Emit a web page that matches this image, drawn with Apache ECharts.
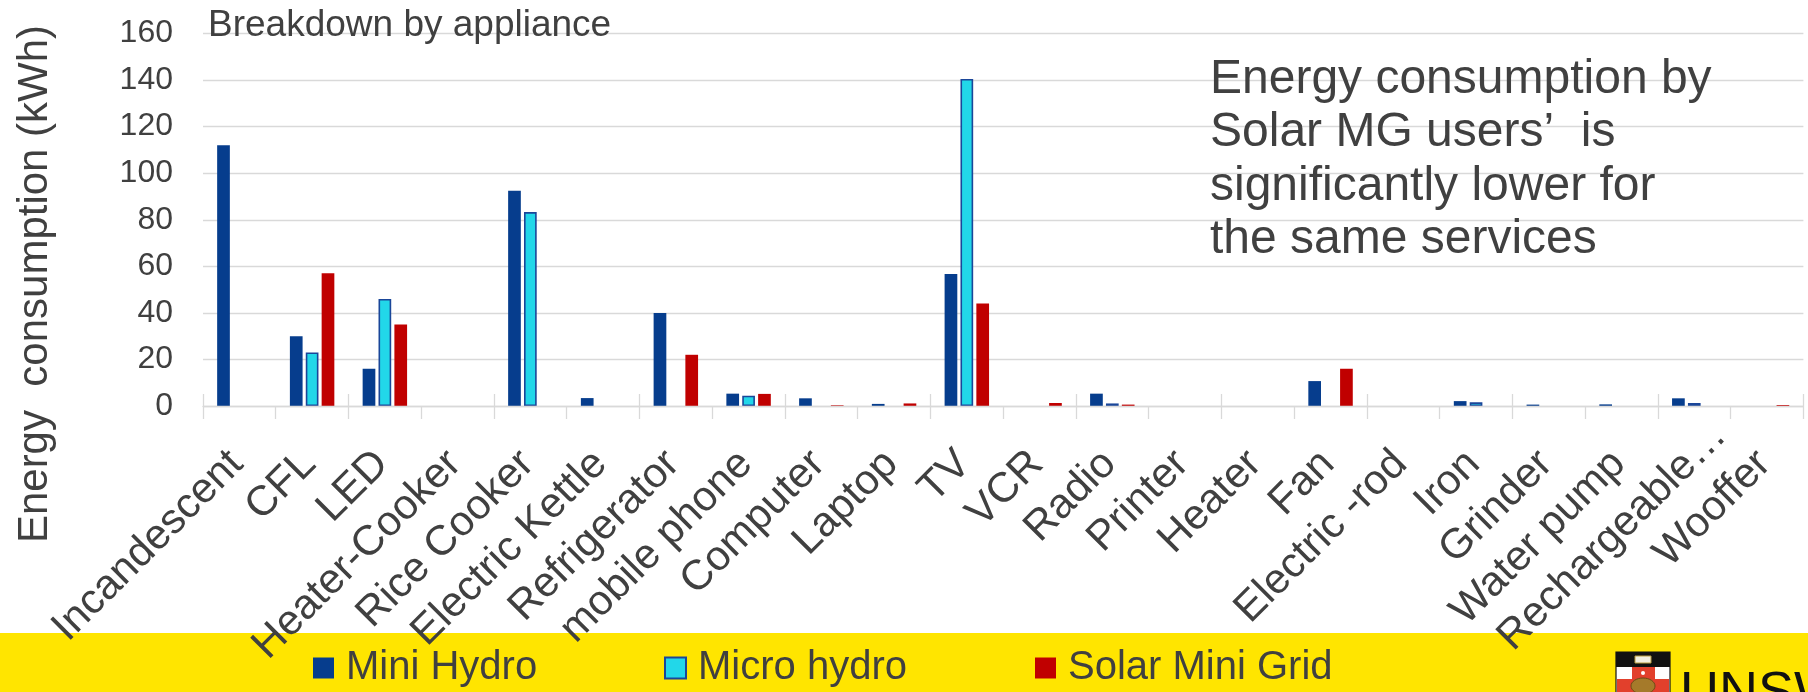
<!DOCTYPE html>
<html>
<head>
<meta charset="utf-8">
<title>Breakdown by appliance</title>
<script src="https://cdn.jsdelivr.net/npm/echarts@6/dist/echarts.min.js"></script>
<style>
  html, body { margin: 0; padding: 0; background: #ffffff; }
  #chart { width: 1808px; height: 692px; }
</style>
</head>
<body>
<div id="chart"></div>
<script>
// Appliance categories on the x axis
const categories = [
  'Incandescent', 'CFL', 'LED', 'Heater-Cooker', 'Rice Cooker', 'Electric Kettle',
  'Refrigerator', 'mobile phone', 'Computer', 'Laptop', 'TV', 'VCR', 'Radio',
  'Printer', 'Heater', 'Fan', 'Electric -rod', 'Iron', 'Grinder', 'Water pump',
  'Rechargeable…', 'Wooffer'
];

// Energy consumption (kWh) per appliance, one array per grid type
const miniHydro = [112, 30, 16, 0, 92.5, 3.4, 40, 5.3, 3.3, 0.9, 56.7, 0, 5.3, 0, 0, 10.7, 0, 2.1, 0.6, 0.7, 3.3, 0];
const microHydro = [0, 23, 46, 0, 83.3, 0, 0, 4.4, 0, 0, 140.5, 0, 1.1, 0, 0, 0, 0, 1.6, 0, 0, 1.3, 0];
const solarMiniGrid = [0, 57, 35, 0, 0, 0, 22, 5.2, 0.3, 1.1, 44, 1.3, 0.6, 0, 0, 16, 0, 0, 0, 0, 0, 0.4];

// Value-axis tick labels
const yTicks = [0, 20, 40, 60, 80, 100, 120, 140, 160];

const seriesNames = ['Mini Hydro', 'Micro hydro', 'Solar Mini Grid'];

const FONT = "'Liberation Sans', Arial, sans-serif";
const TEXT = '#404040';
const GRID_LINE = '#d9d9d9';

// outlined bars would leave a stroke on empty categories, so leave those blank
const blankZeros = arr => arr.map(v => (v === 0 ? null : v));

const chart = echarts.init(document.getElementById('chart'), null, { renderer: 'canvas' });

const legendItem = (name, left) => ({
  data: [{ name: name, icon: 'rect' }],
  left: left,
  top: 648,
  orient: 'horizontal',
  itemWidth: 21,
  itemHeight: 21,
  padding: 0,
  selectedMode: false,
  z: 20,
  textStyle: { fontFamily: FONT, fontSize: 40, color: TEXT, padding: [0, 0, 0, 7] }
});

chart.setOption({
  animation: false,
  backgroundColor: '#ffffff',
  grid: { left: 203, right: 4.6, top: 33.5, bottom: 286, containLabel: false, outerBoundsMode: 'none' },
  legend: [
    legendItem(seriesNames[0], 313),
    legendItem(seriesNames[1], 664),
    legendItem(seriesNames[2], 1035)
  ],
  xAxis: [
    {
      type: 'category',
      data: categories,
      position: 'bottom',
      z: 10,
      axisLine: { lineStyle: { color: GRID_LINE, width: 1.3 } },
      axisTick: { show: true, length: 13, lineStyle: { color: GRID_LINE, width: 1.3 } },
      axisLabel: {
        interval: 0,
        rotate: 45,
        margin: 19,
        verticalAlign: 'top',
        padding: [0, 25, 0, 0],
        fontFamily: FONT,
        fontSize: 42,
        color: TEXT,
        // the truncated label sits further along its slant than the others
        formatter: v => (v.endsWith('…') ? '{shift|' + v + '}' : v),
        rich: {
          shift: { fontFamily: FONT, fontSize: 42, color: TEXT, padding: [0, -40, 0, 0] }
        }
      }
    },
    {
      // second copy of the axis only draws the tick marks above the baseline
      type: 'category',
      data: categories,
      position: 'bottom',
      axisLine: { show: false },
      axisTick: { show: true, inside: true, length: 12, lineStyle: { color: GRID_LINE, width: 1.3 } },
      axisLabel: { show: false },
      splitLine: { show: false }
    }
  ],
  yAxis: {
    type: 'value',
    min: yTicks[0],
    max: yTicks[yTicks.length - 1],
    interval: yTicks[1] - yTicks[0],
    axisLine: { show: false },
    axisTick: { show: false },
    splitLine: { lineStyle: { color: GRID_LINE, width: 1.3 } },
    axisLabel: { margin: 30, fontFamily: FONT, fontSize: 32, color: TEXT }
  },
  series: [
    {
      name: seriesNames[0],
      type: 'bar',
      xAxisIndex: 0,
      data: miniHydro,
      barWidth: 12.7,
      barGap: '25%',
      itemStyle: { color: '#063D8D' }
    },
    {
      name: seriesNames[1],
      type: 'bar',
      xAxisIndex: 0,
      data: blankZeros(microHydro),
      barWidth: 12.7,
      barGap: '25%',
      itemStyle: { color: '#22D7E9', borderColor: '#1A4699', borderWidth: 1.6 }
    },
    {
      name: seriesNames[2],
      type: 'bar',
      xAxisIndex: 0,
      data: solarMiniGrid,
      barWidth: 12.7,
      barGap: '25%',
      itemStyle: { color: '#C00000' }
    }
  ],
  graphic: [
    // yellow footer band behind the legend
    { type: 'rect', z: -10, shape: { x: 0, y: 633, width: 1808, height: 59 }, style: { fill: '#FFE500' }, silent: true },
    // y axis title
    {
      type: 'text', z: 5, x: 35, y: 284, rotation: Math.PI / 2,
      style: { text: 'Energy  consumption (kWh)', font: '42px ' + FONT, fill: TEXT, align: 'center', verticalAlign: 'middle' }
    },
    // chart heading
    {
      type: 'text', z: 5, x: 208, y: 26,
      style: { text: 'Breakdown by appliance', font: '37px ' + FONT, fill: TEXT, align: 'left', verticalAlign: 'middle' }
    },
    // annotation block
    { type: 'text', z: 5, x: 1210, y: 79.5, style: { text: 'Energy consumption by', font: '48px ' + FONT, fill: TEXT, verticalAlign: 'middle' } },
    { type: 'text', z: 5, x: 1210, y: 133, style: { text: 'Solar MG users’  is', font: '48px ' + FONT, fill: TEXT, verticalAlign: 'middle' } },
    { type: 'text', z: 5, x: 1210, y: 186.5, style: { text: 'significantly lower for', font: '48px ' + FONT, fill: TEXT, verticalAlign: 'middle' } },
    { type: 'text', z: 5, x: 1210, y: 240, style: { text: 'the same services', font: '48px ' + FONT, fill: TEXT, verticalAlign: 'middle' } },
    // UNSW crest
    {
      type: 'group', z: 5, x: 1616, y: 652,
      children: [
        { type: 'rect', shape: { x: 0, y: 0, width: 54, height: 42 }, style: { fill: '#ffffff', stroke: '#111111', lineWidth: 1.2 } },
        { type: 'rect', shape: { x: 0, y: 0, width: 54, height: 15 }, style: { fill: '#111111' } },
        { type: 'rect', shape: { x: 19, y: 4, width: 16, height: 7 }, style: { fill: '#f2efe0', stroke: '#b89b3c', lineWidth: 1 } },
        { type: 'rect', shape: { x: 16, y: 15, width: 23, height: 27 }, style: { fill: '#e2402c' } },
        { type: 'rect', shape: { x: 1, y: 27, width: 52, height: 15 }, style: { fill: '#e2402c' } },
        { type: 'circle', shape: { cx: 27, cy: 21, r: 2 }, style: { fill: '#ffffff' } },
        { type: 'ellipse', shape: { cx: 27, cy: 34, rx: 12, ry: 8 }, style: { fill: '#a57a2a', stroke: '#6b4d16', lineWidth: 1 } }
      ]
    },
    {
      type: 'text', z: 5, x: 1680, y: 694,
      style: { text: 'UNSW', font: "54px 'Liberation Sans Narrow', 'Liberation Sans', Arial, sans-serif", fill: '#111111', verticalAlign: 'middle' }
    }
  ]
});
</script>
</body>
</html>
